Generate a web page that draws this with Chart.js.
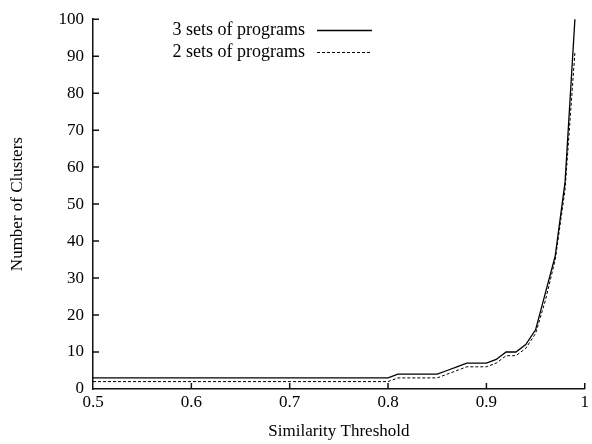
<!DOCTYPE html>
<html>
<head>
<meta charset="utf-8">
<script src="https://cdn.jsdelivr.net/npm/chart.js@4"></script>
<style>
html, body { margin: 0; padding: 0; background: #fff; }
#wrap { width: 592px; height: 444px; }
</style>
</head>
<body>
<div id="wrap"><canvas id="c"></canvas></div>
<script>
// data
const thresholds = [0.50, 0.80, 0.81, 0.85, 0.86, 0.87, 0.88, 0.89, 0.90, 0.91, 0.92, 0.93, 0.94, 0.95, 0.96, 0.97, 0.98, 0.99];
const clusters3 = [3, 3, 4, 4, 5, 6, 7, 7, 7, 8, 10, 10, 12, 16, 26, 36, 56, 100];
const clusters2 = [2, 2, 3, 3, 4, 5, 6, 6, 6, 7, 9, 9, 11, 15, 24, 35, 54, 91];
const seriesNames = ['3 sets of programs', '2 sets of programs'];
const xTicks = [0.5, 0.6, 0.7, 0.8, 0.9, 1];
const yTicks = [0, 10, 20, 30, 40, 50, 60, 70, 80, 90, 100];

const FONT = 'Liberation Serif, Times New Roman, serif';

// gnuplot style: ticks pointing into the plot
const innerTicks = {
    id: 'innerTicks',
    afterDatasetsDraw(chart) {
        const ctx = chart.ctx, a = chart.chartArea;
        const xs = chart.scales.x, ys = chart.scales.y;
        ctx.save();
        ctx.strokeStyle = '#111';
        ctx.lineWidth = 1.5;
        ctx.beginPath();
        yTicks.forEach(v => {
            if (v === 0) return;
            const py = ys.getPixelForValue(v);
            ctx.moveTo(a.left, py);
            ctx.lineTo(a.left + 6, py);
        });
        xTicks.forEach(v => {
            if (v === 0.5) return;
            const px = xs.getPixelForValue(v);
            ctx.moveTo(px, a.bottom);
            ctx.lineTo(px, a.bottom - 6);
        });
        ctx.stroke();
        ctx.restore();
    }
};

// key: text on the left, line sample on the right
const keyBox = {
    id: 'keyBox',
    afterDraw(chart) {
        const ctx = chart.ctx;
        ctx.save();
        ctx.font = '18px ' + FONT;
        ctx.fillStyle = '#000';
        ctx.textAlign = 'right';
        ctx.textBaseline = 'middle';
        chart.data.datasets.forEach((ds, i) => {
            const y = 30 + i * 22;
            ctx.fillText(ds.label, 305, y);
            ctx.beginPath();
            ctx.strokeStyle = ds.borderColor;
            ctx.lineWidth = ds.borderWidth;
            ctx.setLineDash(ds.borderDash || []);
            ctx.moveTo(317, y + 0.5);
            ctx.lineTo(372, y + 0.5);
            ctx.stroke();
        });
        ctx.restore();
    }
};

new Chart(document.getElementById('c').getContext('2d'), {
    type: 'line',
    data: {
        datasets: [{
            label: seriesNames[0],
            data: thresholds.map((t, i) => ({ x: t, y: clusters3[i] })),
            borderColor: '#000',
            borderWidth: 1.3,
            pointRadius: 0,
            tension: 0,
            clip: false
        }, {
            label: seriesNames[1],
            data: thresholds.map((t, i) => ({ x: t, y: clusters2[i] })),
            borderColor: '#000',
            borderWidth: 1,
            borderDash: [3, 2],
            pointRadius: 0,
            tension: 0,
            clip: false
        }]
    },
    options: {
        responsive: true,
        maintainAspectRatio: false,
        animation: false,
        layout: { padding: { top: 16, right: 1, left: 0, bottom: 0 } },
        plugins: { legend: { display: false }, tooltip: { enabled: false } },
        scales: {
            x: {
                type: 'linear',
                min: 0.5,
                max: 1,
                afterBuildTicks: s => { s.ticks = xTicks.map(v => ({ value: v })); },
                afterFit: s => { s.height = 55; },
                grid: { display: false, drawTicks: false },
                border: { display: true, color: '#111', width: 1.5 },
                ticks: {
                    padding: 3,
                    maxRotation: 0,
                    autoSkip: false,
                    color: '#000',
                    font: { family: FONT, size: 17 },
                    callback: v => String(v)
                },
                title: {
                    display: true,
                    text: 'Similarity Threshold',
                    color: '#000',
                    font: { family: FONT, size: 17, lineHeight: 1 },
                    padding: { top: 0, bottom: 4 }
                }
            },
            y: {
                min: 0,
                max: 100,
                afterBuildTicks: s => { s.ticks = yTicks.map(v => ({ value: v })); },
                afterFit: s => { s.width = 93; },
                grid: { display: false, drawTicks: false },
                border: { display: true, color: '#111', width: 1.5 },
                ticks: {
                    padding: 9,
                    color: '#000',
                    font: { family: FONT, size: 17 }
                },
                title: {
                    display: true,
                    text: 'Number of Clusters',
                    color: '#000',
                    font: { family: FONT, size: 17, lineHeight: 1 },
                    padding: { top: 9, bottom: 0 }
                }
            }
        }
    },
    plugins: [innerTicks, keyBox]
});
</script>
</body>
</html>
